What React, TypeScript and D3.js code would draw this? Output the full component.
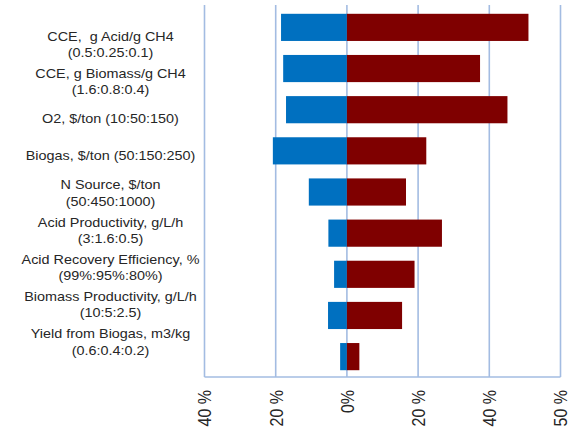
import React from "react";
import * as d3 from "d3";

const categories: string[][] = [
  ["CCE,  g Acid/g CH4", "(0.5:0.25:0.1)"],
  ["CCE, g Biomass/g CH4", "(1.6:0.8:0.4)"],
  ["O2, $/ton (10:50:150)"],
  ["Biogas, $/ton (50:150:250)"],
  ["N Source, $/ton", "(50:450:1000)"],
  ["Acid Productivity, g/L/h", "(3:1.6:0.5)"],
  ["Acid Recovery Efficiency, %", "(99%:95%:80%)"],
  ["Biomass Productivity, g/L/h", "(10:5:2.5)"],
  ["Yield from Biogas, m3/kg", "(0.6:0.4:0.2)"],
];
const lowValues = [-18.5, -17.9, -17.1, -20.8, -10.7, -5.2, -3.6, -5.3, -1.9];
const highValues = [51.0, 37.4, 45.1, 22.3, 16.6, 26.7, 19.0, 15.5, 3.5];
const tickValues = [-40, -20, 0, 20, 40, 60];
const tickLabels = ["40 %", "20 %", "0%", "20 %", "40 %", "50 %"];

const W = 577;
const H = 429;
const FONT = "'Liberation Sans', Arial, sans-serif";
const SX = 1.2;

export default function App() {
  const ids = categories.map((_, i) => String(i));
  const x = d3.scaleLinear().domain([-40, 60]).range([204.5, 560.5]);
  const y = d3
    .scaleBand<string>()
    .domain(ids)
    .range([6.8, 377.2])
    .paddingInner(0.34)
    .paddingOuter(0.17);
  const yl = d3.scalePoint<string>().domain(ids).range([44.5, 342]);
  const top = 5;
  const bottom = 377;
  const grid = "#a3bce2";
  const labelX = 110.5;
  const lineGap = 16.4;

  return (
    <svg
      width={W}
      height={H}
      style={{ position: "absolute", left: 0, top: 0, background: "#fff" }}
    >
      {tickValues.map((t) => (
        <line
          key={"g" + t}
          x1={x(t)}
          x2={x(t)}
          y1={top}
          y2={bottom}
          stroke={grid}
          strokeWidth={1.6}
        />
      ))}
      <line
        x1={x(-40)}
        x2={x(60)}
        y1={bottom}
        y2={bottom}
        stroke={grid}
        strokeWidth={1.6}
      />
      {ids.map((id, i) => (
        <g key={"b" + id}>
          <rect
            x={x(lowValues[i])}
            y={y(id)}
            width={x(0) - x(lowValues[i])}
            height={y.bandwidth()}
            fill="#0070c0"
          />
          <rect
            x={x(0)}
            y={y(id)}
            width={x(highValues[i]) - x(0)}
            height={y.bandwidth()}
            fill="#7f0000"
          />
        </g>
      ))}
      {ids.map((id, i) => {
        const lines = categories[i];
        const c = yl(id) as number;
        const start = c - ((lines.length - 1) * lineGap) / 2;
        return (
          <g key={"l" + id} transform={`translate(${labelX},0) scale(${SX},1)`}>
            {lines.map((ln, j) => (
              <text
                key={j}
                x={0}
                y={start + j * lineGap}
                dy="0.36em"
                textAnchor="middle"
                fontFamily={FONT}
                fontSize={12}
                fill="#262626"
                style={{ whiteSpace: "pre" }}
              >
                {ln}
              </text>
            ))}
          </g>
        );
      })}
      {tickValues.map((t, i) => (
        <text
          key={"t" + t}
          transform={`translate(${x(t)},390) scale(${SX},1) rotate(-90)`}
          textAnchor="end"
          dy="0.36em"
          fontFamily={FONT}
          fontSize={16}
          fill="#262626"
        >
          {tickLabels[i]}
        </text>
      ))}
    </svg>
  );
}
